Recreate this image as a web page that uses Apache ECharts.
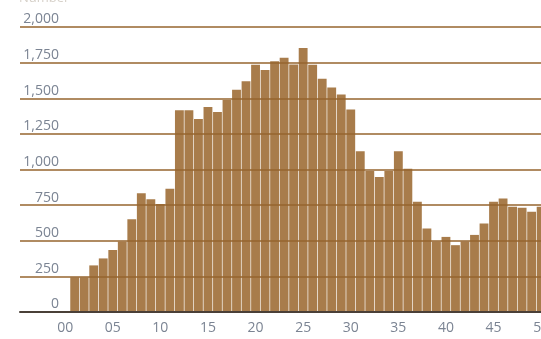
<!DOCTYPE html>
<html>
<head>
<meta charset="utf-8">
<script src="https://cdn.jsdelivr.net/npm/echarts@6/dist/echarts.min.js"></script>
<style>
  html, body { margin: 0; padding: 0; background: #ffffff; }
  #chart { width: 541px; height: 339px; }
</style>
</head>
<body>
<div id="chart"></div>
<script>
// Yearly totals, two-digit year labels 00–50
const years = [
  '00','01','02','03','04','05','06','07','08','09',
  '10','11','12','13','14','15','16','17','18','19',
  '20','21','22','23','24','25','26','27','28','29',
  '30','31','32','33','34','35','36','37','38','39',
  '40','41','42','43','44','45','46','47','48','49','50'
];
const totals = [
  0, 243, 243, 327, 376, 435, 494, 651, 834, 791,
  758, 865, 1415, 1415, 1355, 1438, 1403, 1488, 1560, 1620,
  1735, 1698, 1760, 1785, 1737, 1852, 1735, 1637, 1576, 1526,
  1421, 1128, 990, 948, 990, 1128, 1006, 773, 586, 495,
  527, 469, 495, 541, 621, 773, 796, 738, 732, 703, 738
];
const yTicks = { min: 0, max: 2000, step: 250 };

const labelFont = { fontFamily: 'Open Sans', fontSize: 14, color: '#7b8493' };
const gridColor = 'rgba(150,100,45,0.75)';

const chart = echarts.init(document.getElementById('chart'), null, { renderer: 'canvas' });
chart.setOption({
  animation: false,
  backgroundColor: '#ffffff',
  title: {
    text: 'Number',
    left: 14, top: -13,
    textStyle: { fontFamily: 'Open Sans', fontSize: 13, fontWeight: 'normal', color: '#d6d0c8' }
  },
  grid: [
    // scale grid: horizontal rules and value labels, full width
    { left: 20, width: 521, top: 27, height: 285, outerBoundsMode: 'none' },
    // bar grid: one slot per year, the last slot running past the right edge
    { left: 60.4, width: 485.5, top: 27, height: 285, outerBoundsMode: 'none' }
  ],
  xAxis: [
    {
      gridIndex: 0, type: 'value', min: 0, max: 1, z: 10,
      axisLine: { show: true, onZero: false, lineStyle: { color: '#4a4038', width: 2 } },
      axisTick: { show: false }, axisLabel: { show: false }, splitLine: { show: false }
    },
    {
      gridIndex: 1, type: 'category', data: years, boundaryGap: true,
      axisLine: { show: false }, axisTick: { show: false },
      axisLabel: Object.assign({ interval: 4, margin: 9, hideOverlap: false }, labelFont)
    }
  ],
  yAxis: [
    {
      gridIndex: 0, type: 'value', min: yTicks.min, max: yTicks.max, interval: yTicks.step, z: 10,
      axisLine: { show: false }, axisTick: { show: false },
      axisLabel: Object.assign({
        inside: true, margin: 39, align: 'right', verticalAlign: 'bottom', lineHeight: 15,
        formatter: v => v.toLocaleString('en-US'),
        showMinLabel: true, showMaxLabel: true
      }, labelFont),
      splitLine: {
        show: true, showMinLine: false,
        lineStyle: { color: gridColor, width: 2 }
      }
    },
    {
      gridIndex: 1, type: 'value', min: yTicks.min, max: yTicks.max, interval: yTicks.step,
      show: false, splitLine: { show: false }
    }
  ],
  series: [
    {
      type: 'bar',
      xAxisIndex: 1, yAxisIndex: 1,
      data: totals,
      barCategoryGap: '7%',
      itemStyle: { color: '#a87c4b' },
      z: 2
    }
  ]
});
</script>
</body>
</html>
